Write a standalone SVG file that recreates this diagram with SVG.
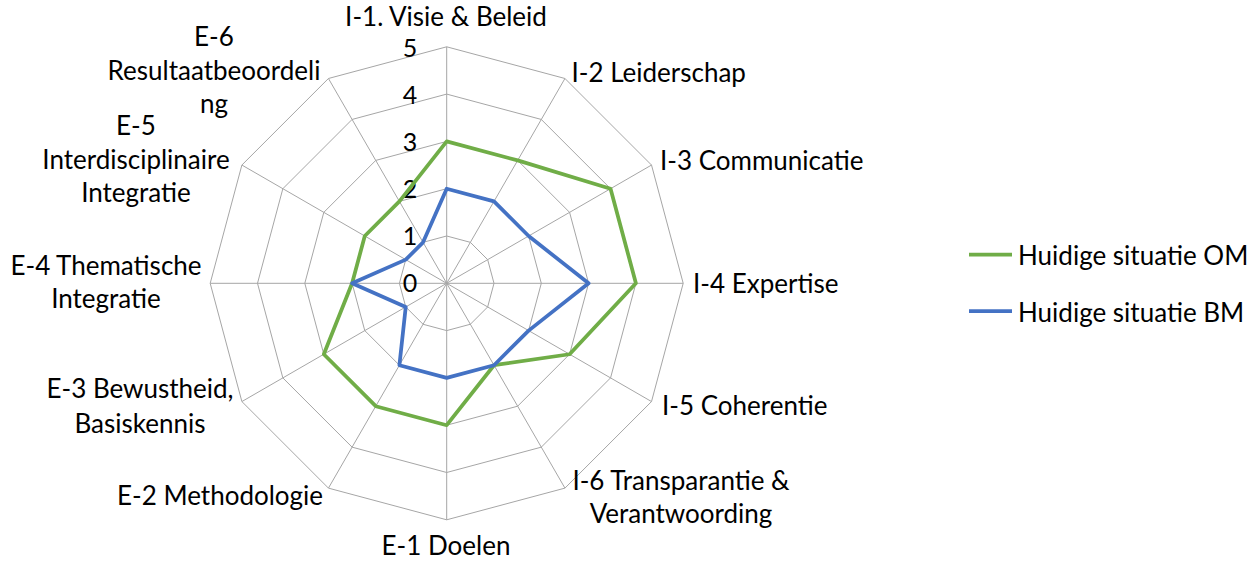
<svg xmlns="http://www.w3.org/2000/svg" width="1259" height="562" viewBox="0 0 1259 562">
<style>
  .grid { fill: none; stroke: #A6A6A6; stroke-width: 1; }
  .lbl { font-family: Lato, "Liberation Sans", sans-serif; font-size: 26px; fill: #000; }
  .num { font-family: Lato, "Liberation Sans", sans-serif; font-size: 25px; fill: #000; text-anchor: middle; }
  .mid { text-anchor: middle; }
  .end { text-anchor: end; }
  .om { fill: none; stroke: #70AD47; stroke-width: 3.75; stroke-linejoin: round; }
  .bm { fill: none; stroke: #4472C4; stroke-width: 3.75; stroke-linejoin: round; }
</style>
<rect width="1259" height="562" fill="#fff"/>
<g id="grid" transform="translate(446.7,283.3)">
  <polygon class="grid" points="0,-47.3 23.65,-40.96 40.96,-23.65 47.3,0 40.96,23.65 23.65,40.96 0,47.3 -23.65,40.96 -40.96,23.65 -47.3,0 -40.96,-23.65 -23.65,-40.96"/>
  <polygon class="grid" points="0,-94.6 47.3,-81.92 81.92,-47.3 94.6,0 81.92,47.3 47.3,81.92 0,94.6 -47.3,81.92 -81.92,47.3 -94.6,0 -81.92,-47.3 -47.3,-81.92"/>
  <polygon class="grid" points="0,-141.9 70.95,-122.89 122.89,-70.95 141.9,0 122.89,70.95 70.95,122.89 0,141.9 -70.95,122.89 -122.89,70.95 -141.9,0 -122.89,-70.95 -70.95,-122.89"/>
  <polygon class="grid" points="0,-189.2 94.6,-163.85 163.85,-94.6 189.2,0 163.85,94.6 94.6,163.85 0,189.2 -94.6,163.85 -163.85,94.6 -189.2,0 -163.85,-94.6 -94.6,-163.85"/>
  <polygon class="grid" points="0,-236.5 118.25,-204.81 204.81,-118.25 236.5,0 204.81,118.25 118.25,204.81 0,236.5 -118.25,204.81 -204.81,118.25 -236.5,0 -204.81,-118.25 -118.25,-204.81"/>
  <path class="grid" d="M0,0L0,-236.5M0,0L118.25,-204.81M0,0L204.81,-118.25M0,0L236.5,0M0,0L204.81,118.25M0,0L118.25,204.81M0,0L0,236.5M0,0L-118.25,204.81M0,0L-204.81,118.25M0,0L-236.5,0M0,0L-204.81,-118.25M0,0L-118.25,-204.81"/>
</g>
<g id="axis-values">
  <text class="num" x="410" y="57">5</text>
  <text class="num" x="410" y="104">4</text>
  <text class="num" x="410" y="151">3</text>
  <text class="num" x="410" y="198">2</text>
  <text class="num" x="410" y="245">1</text>
  <text class="num" x="410" y="292">0</text>
</g>
<g id="connectors" transform="translate(446.7,283.3)">
  <polygon id="series-om" class="om" points="0,-141.9 70.95,-122.89 163.85,-94.6 189.2,0 122.89,70.95 47.3,81.92 0,141.9 -70.95,122.89 -122.89,70.95 -94.6,0 -81.92,-47.3 -47.3,-81.92"/>
  <polygon id="series-bm" class="bm" points="0,-94.6 47.3,-81.92 81.92,-47.3 141.9,0 81.92,47.3 47.3,81.92 0,94.6 -47.3,81.92 -40.96,23.65 -94.6,0 -40.96,-23.65 -23.65,-40.96"/>
</g>
<g id="I-1"><text class="lbl mid" x="446" y="26">I-1. Visie &amp; Beleid</text></g>
<g id="I-2"><text class="lbl" x="571.5" y="82">I-2 Leiderschap</text></g>
<g id="I-3"><text class="lbl" x="660" y="170">I-3 Communicatie</text></g>
<g id="I-4"><text class="lbl" x="693" y="293">I-4 Expertise</text></g>
<g id="I-5"><text class="lbl" x="662" y="415">I-5 Coherentie</text></g>
<g id="I-6"><text class="lbl mid" x="681" y="490">I-6 Transparantie &amp;</text><text class="lbl mid" x="681" y="523">Verantwoording</text></g>
<g id="E-1"><text class="lbl mid" x="446" y="555">E-1 Doelen</text></g>
<g id="E-2"><text class="lbl end" x="323" y="505">E-2 Methodologie</text></g>
<g id="E-3"><text class="lbl mid" x="140" y="398">E-3 Bewustheid,</text><text class="lbl mid" x="140" y="433">Basiskennis</text></g>
<g id="E-4"><text class="lbl mid" x="106" y="275">E-4 Thematische</text><text class="lbl mid" x="106" y="308">Integratie</text></g>
<g id="E-5"><text class="lbl mid" x="136" y="135">E-5</text><text class="lbl mid" x="136" y="169">Interdisciplinaire</text><text class="lbl mid" x="136" y="202">Integratie</text></g>
<g id="E-6"><text class="lbl mid" x="214" y="46">E-6</text><text class="lbl mid" x="214" y="80">Resultaatbeoordeli</text><text class="lbl mid" x="214" y="113">ng</text></g>
<g id="legend">
  <line x1="969" y1="254.5" x2="1012" y2="254.5" stroke="#70AD47" stroke-width="3.75"/>
  <text class="lbl" x="1018" y="265">Huidige situatie OM</text>
  <line x1="969" y1="311" x2="1012" y2="311" stroke="#4472C4" stroke-width="3.75"/>
  <text class="lbl" x="1018" y="322">Huidige situatie BM</text>
</g>
</svg>
